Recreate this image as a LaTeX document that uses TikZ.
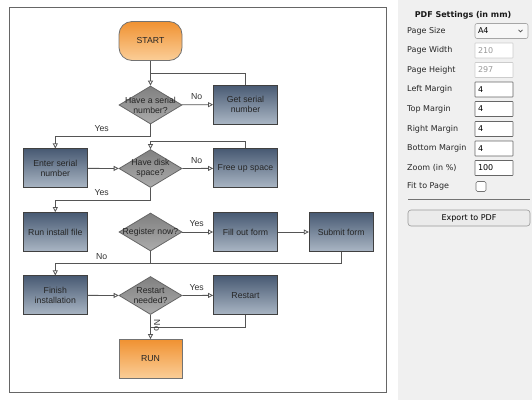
\documentclass[tikz,border=0pt]{standalone}
\usepackage{fontspec}
\newfontfamily\chartfont{Liberation Sans}
\newfontfamily\panelfont{DejaVu Sans}
\usepackage{tikz}
\usetikzlibrary{shapes.geometric}
\usetikzlibrary{arrows.meta}
\usepackage{xcolor}

\definecolor{boxtop}{RGB}{72,90,115}
\definecolor{boxbot}{RGB}{170,182,196}
\definecolor{diatop}{RGB}{128,128,128}
\definecolor{diabot}{RGB}{172,172,172}
\definecolor{orgtop}{RGB}{240,146,50}
\definecolor{orgbot}{RGB}{251,206,152}
\definecolor{linegray}{RGB}{85,85,85}
\definecolor{panelbg}{RGB}{240,240,240}

\tikzset{
  chartfnt/.style={font=\chartfont\fontsize{8.7}{9.8}\selectfont},
  panelfnt/.style={font=\panelfont\fontsize{8}{9.6}\selectfont},
  stepbox/.style={chartfnt, draw=black!75, line width=0.8pt, top color=boxtop, bottom color=boxbot,
    minimum width=64pt, minimum height=39pt, inner sep=1pt, align=center, text=black!85},
  termbox/.style={stepbox, draw=black!55, top color=orgtop, bottom color=orgbot, minimum width=63pt},
  dia/.style={diamond, draw=black!60, line width=0.8pt, top color=diatop, bottom color=diabot,
    minimum width=63pt, minimum height=38pt, inner sep=0pt},
  dialabel/.style={chartfnt, align=center, text=black!85, inner sep=0pt},
  conn/.style={draw=linegray, line width=0.8pt},
  arr/.style={conn, -{Triangle[open, length=5pt, width=5pt]}},
  lab/.style={chartfnt, text=black!80, inner sep=0pt},
  plabel/.style={panelfnt, anchor=west, text=black!85, inner sep=0pt},
  field/.style={panelfnt, draw=black!60, fill=white, line width=0.6pt, minimum height=15pt,
    text width=32pt, inner xsep=3pt, inner ysep=0pt, align=left, rounded corners=0.5pt},
  offfield/.style={field, draw=black!20, text=black!40},
  chk/.style={draw=black!55, fill=white, line width=0.6pt, minimum size=10pt, inner sep=0pt, rounded corners=1.5pt},
  btn/.style={panelfnt, draw=black!40, fill=black!8, line width=0.6pt, rounded corners=3pt,
    minimum width=122pt, minimum height=16pt, inner sep=0pt}
}

\begin{document}
\begin{tikzpicture}[x=1pt, y=-1pt]
\useasboundingbox (0,0) rectangle (532,400);
\fill[white] (0,0) rectangle (532,400);

\begin{scope}{
% canvas
\draw[black!60, line width=0.8pt] (9.5,7.5) rectangle (386.5,392);

\node[termbox, rounded corners=13pt] (start) at (150.5,41) {START};
\node[dia, label={[dialabel]center:{Have a serial\\number?}}] (q1) at (150.5,105) {};
\node[stepbox] (getserial) at (245.5,104.5) {Get serial\\number};

\node[stepbox] (enterserial) at (55.3,168.3) {Enter serial\\number};
\node[dia, label={[dialabel]center:{Have disk\\space?}}] (q2) at (150.5,168.5) {};
\node[stepbox] (freespace) at (245.5,168.3) {Free up space};

\node[stepbox] (runinstall) at (55.3,232) {Run install file};
\node[dia, label={[dialabel]center:{Register now?}}] (q3) at (150.5,232) {};
\node[stepbox] (fillform) at (245.5,232) {Fill out form};
\node[stepbox] (submitform) at (341.2,232) {Submit form};

\node[stepbox] (finish) at (55.3,295.3) {Finish\\installation};
\node[dia, label={[dialabel]center:{Restart\\needed?}}] (q4) at (150.5,295.5) {};
\node[stepbox] (restart) at (245.5,295.3) {Restart};

\node[termbox] (run) at (150.5,359) {RUN};

\coordinate (j1) at (150.5,73.3);
\coordinate (j2) at (150.5,141.7);
\coordinate (y1) at (150.5,136);
\coordinate (y2) at (150.5,200);
\coordinate (j3) at (55.3,263.5);
\coordinate (j4) at (150.5,327.3);

\draw[arr] (start) -- (q1);
\draw[conn] (getserial.north) |- (j1);
\draw[arr] (q1) -- (getserial);
\node[lab] (no1) at (196.7,96.7) {No};
\draw[arr] (q1.south) -- (y1) -| (enterserial.north);
\node[lab] (yes1) at (101.7,128.5) {Yes};

\draw[arr] (enterserial) -- (q2);
\draw[arr] (freespace.north) |- (j2) -- (q2.north);
\draw[arr] (q2) -- (freespace);
\node[lab] (no2) at (196.7,160.3) {No};
\draw[arr] (q2.south) -- (y2) -| (runinstall.north);
\node[lab] (yes2) at (101.7,192.3) {Yes};

\draw[arr] (q3) -- (fillform);
\node[lab] (yes3) at (196.7,224) {Yes};
\draw[arr] (fillform) -- (submitform);
\draw[arr] (submitform.south) |- (j3) -- (finish.north);
\draw[conn] (q3.south) -- (q3.south |- j3);
\node[lab] (no3) at (101.7,256.7) {No};

\draw[arr] (finish) -- (q4);
\draw[arr] (q4) -- (restart);
\node[lab] (yes4) at (196.7,287.3) {Yes};
\draw[conn] (restart.south) |- (j4);
\draw[arr] (q4.south) -- (run.north);
\node[lab, rotate=-90] (no4) at (157,325.5) {No};
} \end{scope}

\begin{scope}{
% settings panel
\fill[panelbg] (398,0) rectangle (532,400);
\node[panelfnt, font=\panelfont\bfseries\fontsize{8}{9.6}\selectfont, text=black!90] (title) at (463,15) {PDF Settings (in mm)};

\node[plabel] (lsize) at (407,31) {Page Size};
\node[field, draw=black!35, fill=black!3, text width=47pt, rounded corners=2pt] (psize) at (501.5,31) {A4};
\draw[black!70, line width=0.7pt] (518.5,29.8) -- (520.5,31.8) -- (522.5,29.8);

\node[plabel] (lwidth) at (407,50.5) {Page Width};
\node[offfield] (pwidth) at (494,50.5) {210};
\node[plabel] (lheight) at (407,70) {Page Height};
\node[offfield] (pheight) at (494,70) {297};
\node[plabel] (lleft) at (407,89.5) {Left Margin};
\node[field] (pleft) at (494,89.5) {4};
\node[plabel] (ltop) at (407,109) {Top Margin};
\node[field] (ptop) at (494,109) {4};
\node[plabel] (lright) at (407,129) {Right Margin};
\node[field] (pright) at (494,129) {4};
\node[plabel] (lbottom) at (407,148.5) {Bottom Margin};
\node[field] (pbottom) at (494,148.5) {4};
\node[plabel] (lzoom) at (407,168) {Zoom (in \%)};
\node[field] (pzoom) at (494,168) {100};
\node[plabel] (lfit) at (407,186.5) {Fit to Page};
\node[chk] (pfit) at (481,186.5) {};

\draw[line width=1.6pt, black!55] (408,199.5) -- (530,199.5);
\node[btn] (export) at (469,218) {Export to PDF};
} \end{scope}

\end{tikzpicture}
\end{document}
